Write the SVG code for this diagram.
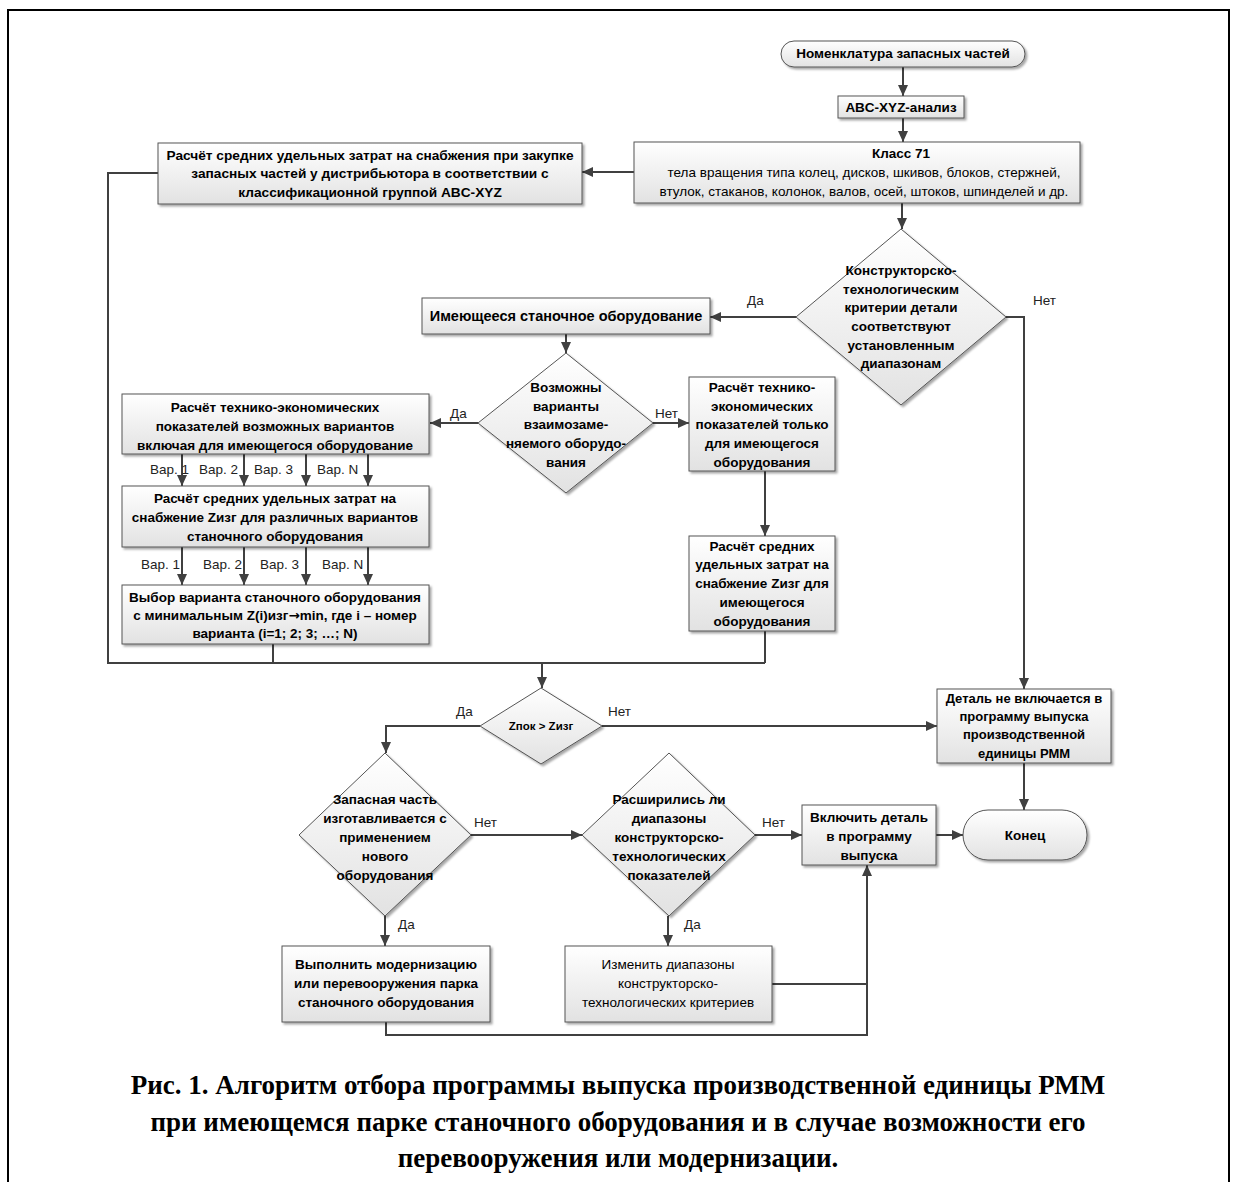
<svg xmlns="http://www.w3.org/2000/svg" width="1236" height="1182" viewBox="0 0 1236 1182">
<defs>
<linearGradient id="g" x1="0" y1="0" x2="0" y2="1"><stop offset="0" stop-color="#ffffff"/><stop offset="1" stop-color="#e2e2e2"/></linearGradient>
<filter id="sh" x="-10%" y="-10%" width="130%" height="140%"><feDropShadow dx="2" dy="2" stdDeviation="1" flood-color="#000" flood-opacity="0.35"/></filter>
<marker id="ah" markerUnits="userSpaceOnUse" markerWidth="11" markerHeight="10" refX="11" refY="5" orient="auto"><path d="M0,0 L11,5 L0,10 z" fill="#404040"/></marker>
<style>
.b{fill:url(#g);stroke:#555;stroke-width:1;filter:url(#sh)}
.t{font-family:"Liberation Sans",Arial,sans-serif;font-weight:bold;font-size:13.5px;fill:#000;text-anchor:middle}
.n{font-weight:normal}
.l{font-family:"Liberation Sans",Arial,sans-serif;font-size:13.5px;fill:#222}
.c{fill:none;stroke:#404040;stroke-width:2}
.a{marker-end:url(#ah)}
.cap{font-family:"Liberation Serif","Times New Roman",serif;font-weight:bold;font-size:27px;text-anchor:middle;fill:#000}
.ar{font-family:"DejaVu Sans",sans-serif}
</style>
</defs>
<rect width="1236" height="1182" fill="#fff"/>
<path d="M8,1182 V10 H1229 V1182" fill="none" stroke="#000" stroke-width="2"/>

<g id="connectors">
<path class="c a" d="M903,67 V96"/>
<path class="c a" d="M903,118 V142"/>
<path class="c a" d="M634,172 H582"/>
<path class="c a" d="M902,203 V229"/>
<path class="c a" d="M796,317 H710"/>
<path class="c a" d="M1006,317 H1024 V689"/>
<path class="c a" d="M566,334 V353"/>
<path class="c a" d="M478,423 H430"/>
<path class="c a" d="M653,423 H689"/>
<path class="c a" d="M182,454 V486"/>
<path class="c a" d="M244,454 V486"/>
<path class="c a" d="M306,454 V486"/>
<path class="c a" d="M368,454 V486"/>
<path class="c a" d="M182,547 V585"/>
<path class="c a" d="M244,547 V585"/>
<path class="c a" d="M306,547 V585"/>
<path class="c a" d="M368,547 V585"/>
<path class="c" d="M158,173 H108 V663 H765"/>
<path class="c" d="M273,644 V663"/>
<path class="c" d="M765,631 V663"/>
<path class="c a" d="M542,663 V688"/>
<path class="c a" d="M765,471 V536"/>
<path class="c a" d="M480,726 H386 V753"/>
<path class="c a" d="M602,726 H937"/>
<path class="c a" d="M1024,763 V810"/>
<path class="c a" d="M471,835 H582"/>
<path class="c a" d="M755,835 H802"/>
<path class="c a" d="M936,835 H963"/>
<path class="c a" d="M385,916 V946"/>
<path class="c a" d="M668,916 V946"/>
<path class="c a" d="M386,1022 V1035 H867 V865"/>
<path class="c" d="M772,984 H867"/>
<text class="l" x="747" y="305">Да</text>
<text class="l" x="1033" y="305">Нет</text>
<text class="l" x="450" y="418">Да</text>
<text class="l" x="655" y="418">Нет</text>
<text class="l" x="150" y="474">Вар. 1</text>
<text class="l" x="199" y="474">Вар. 2</text>
<text class="l" x="254" y="474">Вар. 3</text>
<text class="l" x="317" y="474">Вар. N</text>
<text class="l" x="141" y="569">Вар. 1</text>
<text class="l" x="203" y="569">Вар. 2</text>
<text class="l" x="260" y="569">Вар. 3</text>
<text class="l" x="322" y="569">Вар. N</text>
<text class="l" x="456" y="716">Да</text>
<text class="l" x="608" y="716">Нет</text>
<text class="l" x="474" y="827">Нет</text>
<text class="l" x="762" y="827">Нет</text>
<text class="l" x="398" y="929">Да</text>
<text class="l" x="684" y="929">Да</text>
</g>

<g id="n-start">
<rect class="b" x="781" y="41" width="244" height="26" rx="13"/>
<text class="t" x="903" y="58">Номенклатура запасных частей</text>
</g>
<g id="n-abc">
<rect class="b" x="838" y="96" width="126" height="22"/>
<text class="t" x="901" y="112">ABC-XYZ-анализ</text>
</g>
<g id="n-class71">
<rect class="b" x="634" y="142" width="446" height="61"/>
<text class="t" x="901" y="158">Класс 71</text>
<text class="t n" x="864" y="177">тела вращения типа колец, дисков, шкивов, блоков, стержней,</text>
<text class="t n" x="864" y="196">втулок, стаканов, колонок, валов, осей, штоков, шпинделей и др.</text>
</g>
<g id="n-distrib">
<rect class="b" x="158" y="143" width="424" height="61"/>
<text class="t" x="370" y="160" style="font-size:13.7px">Расчёт средних удельных затрат на снабжения при закупке</text>
<text class="t" x="370" y="178" style="font-size:13.7px">запасных частей у дистрибьютора в соответствии с</text>
<text class="t" x="370" y="197" style="font-size:13.7px">классификационной группой ABC-XYZ</text>
</g>
<g id="n-dec1">
<polygon class="b" points="901,229 1006,317 901,405 796,317"/>
<text class="t" x="901" y="275">Конструкторско-</text>
<text class="t" x="901" y="294">технологическим</text>
<text class="t" x="901" y="312">критерии детали</text>
<text class="t" x="901" y="331">соответствуют</text>
<text class="t" x="901" y="350">установленным</text>
<text class="t" x="901" y="368">диапазонам</text>
</g>
<g id="n-existing">
<rect class="b" x="422" y="298" width="288" height="36"/>
<text class="t" x="566" y="321" style="font-size:14.5px">Имеющееся станочное оборудование</text>
</g>
<g id="n-dec2">
<polygon class="b" points="566,353 653,423 566,493 478,423"/>
<text class="t" x="566" y="392">Возможны</text>
<text class="t" x="566" y="411">варианты</text>
<text class="t" x="566" y="429">взаимозаме-</text>
<text class="t" x="566" y="448">няемого оборудо-</text>
<text class="t" x="566" y="467">вания</text>
</g>
<g id="n-teo-all">
<rect class="b" x="122" y="394" width="307" height="60"/>
<text class="t" x="275" y="412">Расчёт технико-экономических</text>
<text class="t" x="275" y="431">показателей возможных вариантов</text>
<text class="t" x="275" y="450">включая для имеющегося оборудование</text>
</g>
<g id="n-z-all">
<rect class="b" x="122" y="486" width="307" height="61"/>
<text class="t" x="275" y="503">Расчёт средних удельных затрат на</text>
<text class="t" x="275" y="522">снабжение Zизг для различных вариантов</text>
<text class="t" x="275" y="541">станочного оборудования</text>
</g>
<g id="n-choice">
<rect class="b" x="122" y="585" width="307" height="59"/>
<text class="t" x="275" y="602">Выбор варианта станочного оборудования</text>
<text class="t" x="275" y="620">с минимальным Z(i)изг<tspan class="ar">→</tspan>min, где i –  номер</text>
<text class="t" x="275" y="638">варианта (i=1; 2; 3; …; N)</text>
</g>
<g id="n-teo-exist">
<rect class="b" x="689" y="377" width="146" height="94"/>
<text class="t" x="762" y="392">Расчёт технико-</text>
<text class="t" x="762" y="411">экономических</text>
<text class="t" x="762" y="429">показателей только</text>
<text class="t" x="762" y="448">для имеющегося</text>
<text class="t" x="762" y="467">оборудования</text>
</g>
<g id="n-z-exist">
<rect class="b" x="689" y="536" width="146" height="95"/>
<text class="t" x="762" y="551">Расчёт средних</text>
<text class="t" x="762" y="569">удельных затрат на</text>
<text class="t" x="762" y="588">снабжение Zизг для</text>
<text class="t" x="762" y="607">имеющегося</text>
<text class="t" x="762" y="626">оборудования</text>
</g>
<g id="n-dec3">
<polygon class="b" points="541,688 602,726 541,764 480,726"/>
<text class="t" x="541" y="730" style="font-size:11.5px">Zпок &gt; Zизг</text>
</g>
<g id="n-excluded">
<rect class="b" x="937" y="689" width="174" height="74"/>
<text class="t" x="1024" y="703" style="font-size:13px">Деталь не включается в</text>
<text class="t" x="1024" y="721" style="font-size:13px">программу выпуска</text>
<text class="t" x="1024" y="739" style="font-size:13px">производственной</text>
<text class="t" x="1024" y="758" style="font-size:13px">единицы РММ</text>
</g>
<g id="n-dec4">
<polygon class="b" points="385,753 471,835 385,916 299,835"/>
<text class="t" x="385" y="804">Запасная часть</text>
<text class="t" x="385" y="823">изготавливается с</text>
<text class="t" x="385" y="842">применением</text>
<text class="t" x="385" y="861">нового</text>
<text class="t" x="385" y="880">оборудования</text>
</g>
<g id="n-dec5">
<polygon class="b" points="669,753 755,835 669,916 582,835"/>
<text class="t" x="669" y="804">Расширились ли</text>
<text class="t" x="669" y="823">диапазоны</text>
<text class="t" x="669" y="842">конструкторско-</text>
<text class="t" x="669" y="861">технологических</text>
<text class="t" x="669" y="880">показателей</text>
</g>
<g id="n-include">
<rect class="b" x="802" y="805" width="134" height="60"/>
<text class="t" x="869" y="822">Включить деталь</text>
<text class="t" x="869" y="841">в программу</text>
<text class="t" x="869" y="860">выпуска</text>
</g>
<g id="n-end">
<rect class="b" x="963" y="810" width="124" height="50" rx="25"/>
<text class="t" x="1025" y="840">Конец</text>
</g>
<g id="n-modern">
<rect class="b" x="282" y="946" width="208" height="76"/>
<text class="t" x="386" y="969">Выполнить модернизацию</text>
<text class="t" x="386" y="988">или перевооружения парка</text>
<text class="t" x="386" y="1007">станочного оборудования</text>
</g>
<g id="n-change">
<rect class="b" x="565" y="946" width="207" height="76"/>
<text class="t n" x="668" y="969">Изменить диапазоны</text>
<text class="t n" x="668" y="988">конструкторско-</text>
<text class="t n" x="668" y="1007">технологических критериев</text>
</g>

<g id="caption">
<text class="cap" x="618" y="1094">Рис. 1. Алгоритм отбора программы выпуска производственной единицы РММ</text>
<text class="cap" x="618" y="1131">при имеющемся парке станочного оборудования и в случае возможности его</text>
<text class="cap" x="618" y="1167">перевооружения или модернизации.</text>
</g>
</svg>
